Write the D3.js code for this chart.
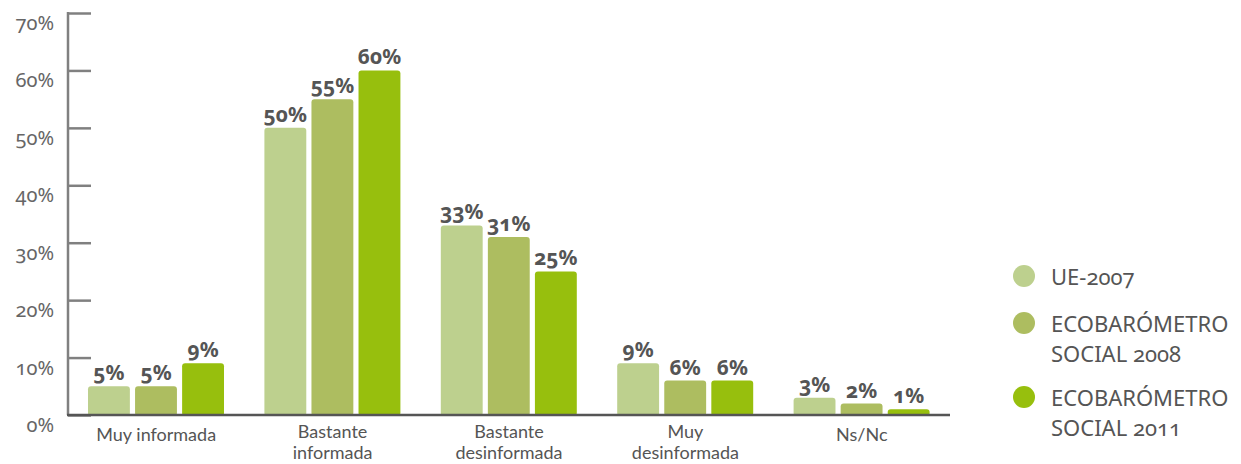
<!DOCTYPE html>
<html><head><meta charset="utf-8">
<script src="https://cdn.jsdelivr.net/npm/d3@7"></script>
<style>
html,body{margin:0;padding:0;background:#fff;}
svg text{font-family:"Noto Sans","Open Sans",sans-serif;font-variant-numeric:oldstyle-nums;font-feature-settings:"onum" 1;}
svg text.xl{font-family:Lato,"Noto Sans",sans-serif;}
</style></head>
<body><svg id="c" width="1241" height="464"></svg>
<script>
const categories = [["Muy informada"],["Bastante","informada"],["Bastante","desinformada"],["Muy","desinformada"],["Ns/Nc"]];
const seriesNames = [["UE-2007"],["ECOBARÓMETRO","SOCIAL 2008"],["ECOBARÓMETRO","SOCIAL 2011"]];
const ue2007 = [5,50,33,9,3];
const eco2008 = [5,55,31,6,2];
const eco2011 = [9,60,25,6,1];
const yTicks = [0,10,20,30,40,50,60,70];
const colors = ["#bdd08e","#adbd60","#97bf0d"];
const series = [ue2007, eco2008, eco2011];

const svg = d3.select("#c");
const x0 = d3.scaleBand().domain(d3.range(categories.length)).range([68,950]).paddingInner(0).paddingOuter(0);
const x1 = d3.scaleBand().domain(d3.range(series.length)).range([20,156]).paddingInner(0.11).paddingOuter(0);
const y = d3.scaleLinear().domain([0,70]).range([415,13]);

// y axis
const yAxis = d3.axisRight(y).tickValues(yTicks).tickSize(23).tickFormat("");
const gy = svg.append("g").attr("transform","translate(68,0)").call(yAxis);
gy.select(".domain").attr("stroke","#808080").attr("stroke-width",2.5).attr("d","M0,12V415");
gy.selectAll(".tick line").attr("stroke","#808080").attr("stroke-width",2.5);
svg.append("g").selectAll("text").data(yTicks).join("text")
  .attr("x",54).attr("y",d=>y(d)+17).attr("text-anchor","end")
  .attr("fill","#666").attr("font-size",20).text(d=>d+"%");

// bars
const groups = svg.append("g").selectAll("g").data(categories).join("g")
  .attr("transform",(d,i)=>`translate(${x0(i)},0)`);
groups.each(function(cat,i){
  const g = d3.select(this);
  series.forEach((s,j)=>{
    g.append("rect").attr("x",x1(j)).attr("width",x1.bandwidth())
      .attr("y",y(s[i])).attr("height",y(0)-y(s[i])+1)
      .attr("rx",3).attr("fill",colors[j]);
    g.append("text").attr("x",x1(j)+x1.bandwidth()/2).attr("y",y(s[i])-6)
      .attr("text-anchor","middle").attr("font-size",21).attr("font-weight","bold")
      .attr("fill","#555").text(s[i]+"%");
  });
  const t = g.append("text").attr("class","xl").attr("text-anchor","middle").attr("fill","#555").attr("font-size",18);
  const y0 = cat.length > 1 ? 438 : 441;
  cat.forEach((line,k)=>{
    t.append("tspan").attr("x",x0.bandwidth()/2).attr("y",y0+k*21).text(line);
  });
});

// baseline
svg.append("line").attr("x1",67).attr("x2",950).attr("y1",415).attr("y2",415)
  .attr("stroke","#555").attr("stroke-width",2.5);

// legend
const legY = [276,323,397];
seriesNames.forEach((lines,j)=>{
  svg.append("circle").attr("cx",1024).attr("cy",legY[j]).attr("r",11).attr("fill",colors[j]);
  const t = svg.append("text").attr("fill","#555").attr("font-size",22);
  lines.forEach((l,k)=>t.append("tspan").attr("x",1051).attr("y",legY[j]+9+k*30).text(l));
});
</script></body></html>
